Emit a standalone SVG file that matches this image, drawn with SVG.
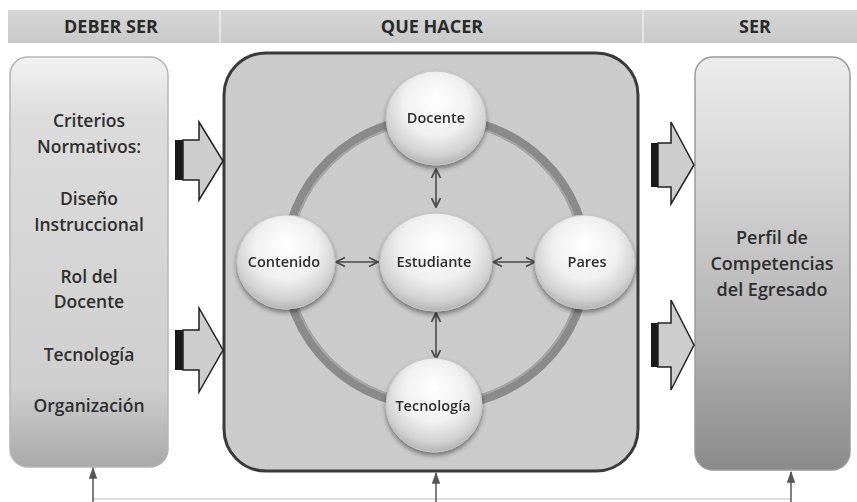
<svg xmlns="http://www.w3.org/2000/svg" width="857" height="502" viewBox="0 0 857 502">
<defs>
<linearGradient id="hdr" x1="0" y1="0" x2="0" y2="1"><stop offset="0" stop-color="#d6d6d6"/><stop offset="1" stop-color="#c9c9c9"/></linearGradient>
<linearGradient id="lbox" x1="0" y1="0" x2="0" y2="1"><stop offset="0" stop-color="#f2f2f2"/><stop offset="0.15" stop-color="#dcdcdc"/><stop offset="0.8" stop-color="#cfcfcf"/><stop offset="1" stop-color="#a9a9a9"/></linearGradient>
<linearGradient id="rbox" x1="0" y1="0" x2="0" y2="1"><stop offset="0" stop-color="#ececec"/><stop offset="0.3" stop-color="#d4d4d4"/><stop offset="0.7" stop-color="#b0b0b0"/><stop offset="1" stop-color="#8a8a8a"/></linearGradient>
<radialGradient id="ball" cx="0.5" cy="0.4" r="0.6" fx="0.5" fy="0.3"><stop offset="0" stop-color="#ffffff"/><stop offset="0.55" stop-color="#f0f0f0"/><stop offset="0.85" stop-color="#d2d2d2"/><stop offset="1" stop-color="#b4b4b4"/></radialGradient>
<filter id="sh" x="-20%" y="-20%" width="140%" height="150%"><feGaussianBlur in="SourceAlpha" stdDeviation="2.5"/><feOffset dy="3"/><feComponentTransfer><feFuncA type="linear" slope="0.45"/></feComponentTransfer><feMerge><feMergeNode/><feMergeNode in="SourceGraphic"/></feMerge></filter>
<marker id="ah" viewBox="0 0 10 10" refX="9" refY="5" markerWidth="7" markerHeight="7" orient="auto-start-reverse"><path d="M1,1 L9,5 L1,9" fill="none" stroke="#4a4a4a" stroke-width="1.6"/></marker>
<marker id="up" viewBox="0 0 10 10" refX="9" refY="5" markerWidth="8" markerHeight="8" orient="auto"><path d="M0,1.5 L10,5 L0,8.5 Z" fill="#555"/></marker>
</defs>
<style>
.hd{font-family:"Open Sans","Liberation Sans",sans-serif;font-weight:700;font-size:18px;fill:#2a2a2a;text-anchor:middle}
.lt{font-family:"Open Sans","Liberation Sans",sans-serif;font-weight:600;font-size:17.5px;fill:#2e2e2e;text-anchor:middle}
.ct{font-family:"Open Sans","Liberation Sans",sans-serif;font-weight:600;font-size:14.5px;fill:#2e2e2e;text-anchor:middle}
.rt{font-family:"Open Sans","Liberation Sans",sans-serif;font-weight:600;font-size:18px;fill:#2e2e2e;text-anchor:middle}
.blk{fill:#cdcdcd;stroke:#222;stroke-width:1.5}
.lnk{stroke:#4a4a4a;stroke-width:1.6;fill:none}
</style>
<rect width="857" height="502" fill="#ffffff"/>
<g id="header">
<rect x="8" y="10" width="849" height="33" fill="url(#hdr)"/>
<line x1="220" y1="10" x2="220" y2="43" stroke="#eeeeee" stroke-width="1.5"/>
<line x1="643" y1="10" x2="643" y2="43" stroke="#eeeeee" stroke-width="1.5"/>
<text class="hd" x="111" y="33">DEBER SER</text>
<text class="hd" x="432" y="33">QUE HACER</text>
<text class="hd" x="755" y="33">SER</text>
</g>
<g id="deber-ser">
<rect x="10" y="57" width="158" height="410" rx="18" fill="url(#lbox)" stroke="#b5b5b5" stroke-width="1.5"/>
<text class="lt" x="89" y="127">Criterios</text>
<text class="lt" x="89" y="153">Normativos:</text>
<text class="lt" x="89" y="205">Diseño</text>
<text class="lt" x="89" y="231">Instruccional</text>
<text class="lt" x="89" y="283">Rol del</text>
<text class="lt" x="89" y="308">Docente</text>
<text class="lt" x="89" y="361">Tecnología</text>
<text class="lt" x="89" y="412">Organización</text>
</g>
<g id="que-hacer">
<rect x="224" y="53" width="414" height="418" rx="42" fill="#cbcbcb" stroke="#3a3a3a" stroke-width="3"/>
<ellipse cx="436" cy="262" rx="150" ry="144" fill="none" stroke="#8a8a8a" stroke-width="10"/>
<ellipse cx="436" cy="262" rx="146" ry="140" fill="none" stroke="#a6a6a6" stroke-width="2"/>
</g>
<g id="ser">
<rect x="695" y="57" width="155" height="413" rx="18" fill="url(#rbox)" stroke="#9a9a9a" stroke-width="1.5"/>
<text class="rt" x="772" y="244">Perfil de</text>
<text class="rt" x="772" y="270">Competencias</text>
<text class="rt" x="772" y="296">del Egresado</text>
</g>
<g id="connectors">
<g id="block-arrows">
<rect x="175" y="140" width="8" height="40" fill="#1a1a1a"/>
<path class="blk" d="M183,140 H199 V122 L223,161 L199,200 V180 H183 Z"/>
<rect x="175" y="330" width="8" height="40" fill="#1a1a1a"/>
<path class="blk" d="M183,330 H199 V308 L223,350 L199,392 V370 H183 Z"/>
<rect x="651" y="143" width="7" height="44" fill="#1a1a1a"/>
<path class="blk" d="M658,143 H671 V122 L694,165 L671,204 V187 H658 Z"/>
<rect x="651" y="323" width="7" height="44" fill="#1a1a1a"/>
<path class="blk" d="M658,323 H671 V300 L694,345 L671,390 V367 H658 Z"/>
</g>
<line class="lnk" x1="436" y1="169" x2="436" y2="207" marker-start="url(#ah)" marker-end="url(#ah)"/>
<line class="lnk" x1="436" y1="313" x2="436" y2="359" marker-start="url(#ah)" marker-end="url(#ah)"/>
<line class="lnk" x1="336" y1="262" x2="378" y2="262" marker-start="url(#ah)" marker-end="url(#ah)"/>
<line class="lnk" x1="493" y1="262" x2="535" y2="262" marker-start="url(#ah)" marker-end="url(#ah)"/>
<line x1="93" y1="499" x2="791" y2="499" stroke="#d0d0d0" stroke-width="1.5"/>
<line x1="93" y1="502" x2="93" y2="468" stroke="#555" stroke-width="1.5" marker-end="url(#up)"/>
<line x1="436" y1="502" x2="436" y2="473" stroke="#555" stroke-width="1.5" marker-end="url(#up)"/>
<line x1="791" y1="502" x2="791" y2="472" stroke="#555" stroke-width="1.5" marker-end="url(#up)"/>
</g>
<g id="docente" filter="url(#sh)">
<ellipse cx="436" cy="118" rx="50" ry="47" fill="url(#ball)" stroke="#c4c4c4" stroke-width="1"/>
<text class="ct" x="436" y="123">Docente</text>
</g>
<g id="contenido" filter="url(#sh)">
<ellipse cx="286" cy="262" rx="49" ry="47" fill="url(#ball)" stroke="#c4c4c4" stroke-width="1"/>
<text class="ct" x="284" y="267">Contenido</text>
</g>
<g id="estudiante" filter="url(#sh)">
<ellipse cx="436" cy="262" rx="56" ry="49" fill="url(#ball)" stroke="#c4c4c4" stroke-width="1"/>
<text class="ct" x="434" y="267">Estudiante</text>
</g>
<g id="pares" filter="url(#sh)">
<ellipse cx="585" cy="262" rx="50" ry="47" fill="url(#ball)" stroke="#c4c4c4" stroke-width="1"/>
<text class="ct" x="587" y="267">Pares</text>
</g>
<g id="tecnologia" filter="url(#sh)">
<ellipse cx="434" cy="405" rx="48" ry="47" fill="url(#ball)" stroke="#c4c4c4" stroke-width="1"/>
<text class="ct" x="433" y="411">Tecnología</text>
</g>
</svg>
